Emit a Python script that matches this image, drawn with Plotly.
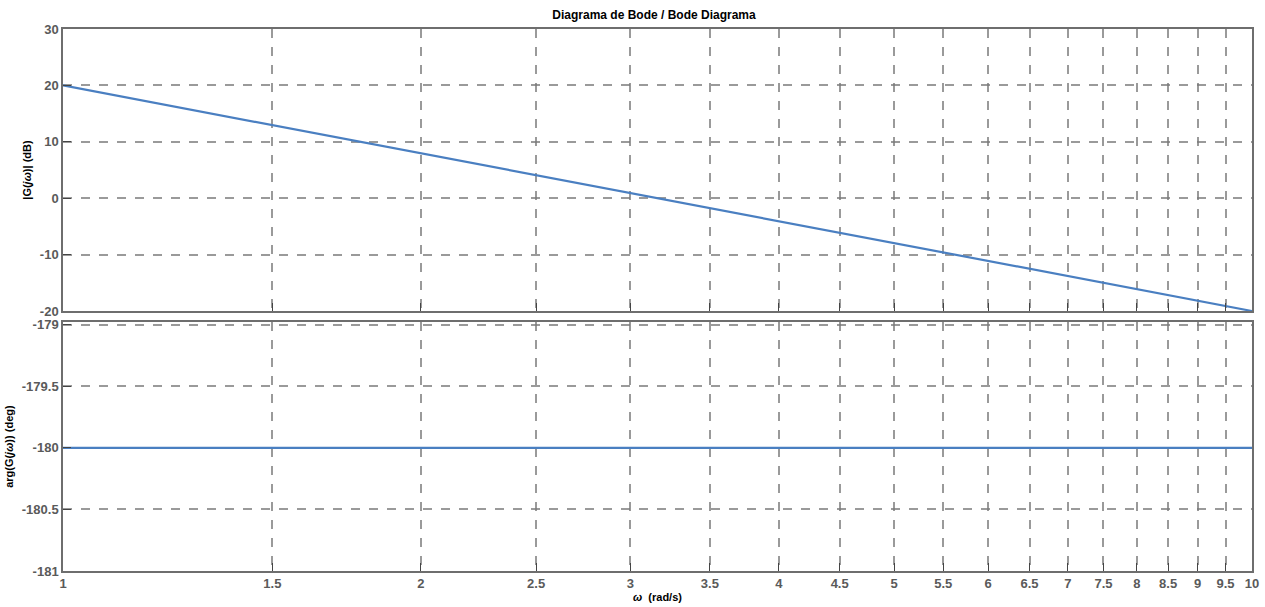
import plotly.graph_objects as go
from plotly.subplots import make_subplots

omega = [1, 1.5, 2, 2.5, 3, 3.5, 4, 4.5, 5, 5.5, 6, 6.5, 7, 7.5, 8, 8.5, 9, 9.5, 10]
mag_db = [20.0, 12.96, 7.96, 4.08, 0.92, -1.76, -4.08, -6.13, -7.96, -9.61,
          -11.13, -12.52, -13.8, -15.0, -16.12, -17.18, -18.17, -19.11, -20.0]
phase_deg = [-180.0] * len(omega)

tick_vals = [1, 1.5, 2, 2.5, 3, 3.5, 4, 4.5, 5, 5.5, 6, 6.5, 7, 7.5, 8, 8.5, 9, 9.5, 10]
tick_text = ["1", "1.5", "2", "2.5", "3", "3.5", "4", "4.5", "5", "5.5", "6", "6.5",
             "7", "7.5", "8", "8.5", "9", "9.5", "10"]
mag_ticks = [-20, -10, 0, 10, 20, 30]
mag_text = ["-20", "-10", "0", "10", "20", "30"]
phase_ticks = [-181, -180.5, -180, -179.5, -179]
phase_text = ["-181", "-180.5", "-180", "-179.5", "-179"]

line_color = "#4a7fc1"
grid_color = "rgba(120,120,120,0.75)"
axis_color = "#6e6e6e"
font_fam = "Liberation Sans, Arial, sans-serif"

fig = make_subplots(rows=2, cols=1, shared_xaxes=False, vertical_spacing=0.02)

fig.add_trace(go.Scatter(x=omega, y=mag_db, mode="lines",
                         line=dict(color=line_color, width=2.2), showlegend=False), row=1, col=1)
fig.add_trace(go.Scatter(x=omega, y=phase_deg, mode="lines",
                         line=dict(color=line_color, width=2.2), showlegend=False), row=2, col=1)

tfont = dict(family=font_fam, size=13, color="#5a5a5a", weight="bold")
common_x = dict(type="log", range=[0, 1], tickvals=tick_vals, ticktext=tick_text,
                showgrid=True, gridcolor=grid_color, griddash="dash", gridwidth=1.5,
                showline=True, linecolor=axis_color, linewidth=1.5, mirror=True,
                ticks="inside", ticklen=8, tickcolor="#444", zeroline=False,
                automargin=False, tickfont=tfont)
common_y = dict(showgrid=True, gridcolor=grid_color, griddash="dash", gridwidth=1.5,
                showline=True, linecolor=axis_color, linewidth=1.5, mirror=True,
                ticks="inside", ticklen=8, tickcolor="#444", zeroline=False,
                automargin=False, tickfont=tfont)

fig.update_xaxes(**common_x, showticklabels=False, domain=[0, 1], row=1, col=1)
fig.update_xaxes(**common_x, showticklabels=True, row=2, col=1,
                 title=dict(text="<i>ω</i>  (rad/s)", standoff=2,
                            font=dict(family=font_fam, size=11, color="black", weight="bold")))
fig.update_yaxes(**common_y, range=[-20, 30], tickvals=mag_ticks, ticktext=mag_text,
                 domain=[0.4797, 1.0], row=1, col=1,
                 title=dict(text="|G(<i>jω</i>)| (dB)", standoff=6,
                            font=dict(family=font_fam, size=11, color="black", weight="bold")))
fig.update_yaxes(**common_y, range=[-181, -178.98], tickvals=phase_ticks, ticktext=phase_text,
                 domain=[0, 0.459], row=2, col=1,
                 title=dict(text="arg(G(<i>jω</i>)) (deg)", standoff=6,
                            font=dict(family=font_fam, size=11, color="black", weight="bold")))

fig.update_layout(
    width=1265, height=607,
    margin=dict(l=63, r=13, t=29, b=36),
    paper_bgcolor="white", plot_bgcolor="white",
    title=dict(text="Diagrama de Bode / Bode Diagrama", x=0.517, xanchor="center",
               y=0.975, yanchor="middle",
               font=dict(family=font_fam, size=12, color="black", weight="bold")),
)

fig.write_html("out.html")
